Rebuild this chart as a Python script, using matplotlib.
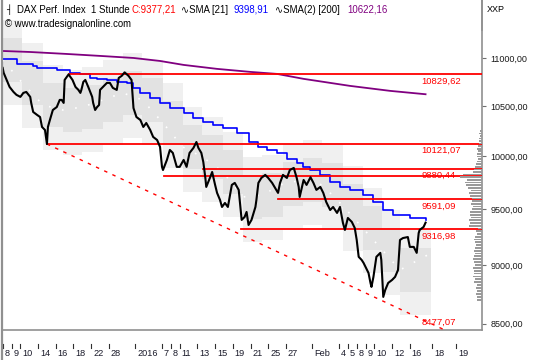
import numpy as np
import matplotlib
matplotlib.use("Agg")
import matplotlib.pyplot as plt
import matplotlib.transforms as mtransforms
from matplotlib.ticker import FixedLocator, NullLocator

plt.rcParams['font.family'] = ['Liberation Sans', 'DejaVu Sans']

# hourly bars (about 9 per trading day), Dec 8 2015 .. Feb 17 2016
price_bar = [0, 1, 4, 7, 11, 14, 18, 21, 24, 28, 29, 31, 35, 38, 40, 43, 45, 46, 48, 51,
             55, 58, 60, 62, 63, 67, 71, 74, 77, 79, 80, 82, 84, 87, 89, 91, 92, 94, 96, 98,
             99, 102, 106, 109, 112, 116, 118, 121, 124, 128, 131, 133, 136, 140, 143, 146, 150, 153, 157, 160,
             162, 163, 167, 170, 173, 177, 180, 184, 187, 190, 194, 197, 199, 202, 204, 206, 207, 211, 213, 216,
             218, 221, 223, 226, 229, 233, 236, 240, 241, 243, 246, 248, 250, 253, 257, 258, 260, 263, 267, 270,
             274, 277, 280, 282, 285, 289, 292, 296, 299, 301, 302, 306, 309, 313, 316, 319, 323, 326, 329, 333,
             336, 340, 343, 346, 348, 351, 355, 358, 360, 362, 365, 367, 372, 374, 375, 377, 380, 384, 385, 387,
             389, 392, 396, 399, 402, 404, 407, 412, 414, 418, 421, 423, 424, 428, 430]
price = [10897, 10845, 10771, 10698, 10646, 10616, 10595, 10636, 10646, 10595, 10533, 10441, 10411, 10390, 10290, 10260, 10121, 10290, 10360, 10461,
         10491, 10564, 10564, 10533, 10771, 10829, 10771, 10698, 10667, 10636, 10667, 10750, 10771, 10698, 10646, 10595, 10533, 10461, 10491, 10512,
         10667, 10698, 10740, 10740, 10688, 10667, 10792, 10813, 10850, 10813, 10771, 10481, 10390, 10360, 10290, 10330, 10260, 10191, 10161, 10093,
         9899, 9869, 9966, 10063, 10034, 9899, 9899, 9966, 9899, 10034, 10083, 10141, 10083, 10034, 9946, 9800, 9708, 9800, 9850, 9727,
         9652, 9586, 9521, 9558, 9521, 9727, 9746, 9680, 9586, 9402, 9429, 9475, 9356, 9402, 9521, 9586, 9746, 9793, 9822, 9793,
         9746, 9699, 9652, 9746, 9822, 9793, 9869, 9889, 9793, 9708, 9614, 9774, 9727, 9800, 9746, 9680, 9708, 9652, 9567, 9493,
         9521, 9466, 9521, 9374, 9311, 9420, 9384, 9329, 9221, 9071, 9044, 9017, 8930, 8844, 8810, 8896, 9071, 9106, 9044, 8725,
         8784, 8844, 8870, 8896, 8956, 9221, 9238, 9247, 9159, 9159, 9106, 9283, 9311, 9338, 9377.21]

sma21_bar = [0, 15, 25, 31, 35, 41, 55, 68, 79, 89, 96, 106, 116, 126, 133, 140, 150, 160, 170, 184,
             194, 204, 214, 224, 238, 250, 260, 269, 279, 289, 299, 305, 313, 323, 333, 343, 353, 366, 377, 387,
             397, 414, 430]
sma21 = [10993, 10944, 10934, 10913, 10892, 10892, 10871, 10840, 10829, 10788, 10777, 10771, 10750, 10740, 10688, 10636, 10585, 10533, 10481, 10431,
         10380, 10340, 10310, 10280, 10230, 10141, 10093, 10063, 10034, 9976, 9937, 9899, 9869, 9822, 9755, 9708, 9680, 9633, 9567, 9493,
         9447, 9420, 9398.91]

sma200_bar = [0, 28, 65, 99, 133, 160, 184, 218, 252, 279, 306, 353, 394, 430]
sma200 = [11078, 11067, 11046, 11025, 11003, 10971, 10929, 10887, 10855, 10834, 10782, 10709, 10657, 10622.16]

# shaded channel
band_bar = [0, 20, 41, 61, 81, 102, 122, 142, 163, 183, 203, 224, 244, 264, 285, 305, 325, 346, 366, 386, 404, 436]
band_mid = [10982, 10740, 10512, 10461, 10491, 10564, 10636, 10564, 10330, 10093, 9995, 9850, 9614, 9633, 9736, 9774, 9727, 9530, 9329, 9132, 8956, 9106]
band_hi_outer = [11417, 11165, 10928, 10875, 10906, 10982, 11057, 10982, 10739, 10493, 10391, 10240, 9995, 10014, 10121, 10161, 10112, 9907, 9698, 9494, 9311, 9467]
band_hi_inner = [11219, 10972, 10739, 10687, 10718, 10792, 10866, 10792, 10553, 10311, 10211, 10063, 9822, 9841, 9946, 9985, 9937, 9736, 9531, 9329, 9149, 9303]
band_lo_inner = [10750, 10513, 10290, 10240, 10270, 10341, 10412, 10341, 10112, 9880, 9784, 9642, 9411, 9430, 9531, 9568, 9522, 9329, 9132, 8939, 8767, 8914]
band_lo_outer = [10513, 10281, 10063, 10014, 10043, 10113, 10182, 10113, 9889, 9662, 9568, 9429, 9204, 9222, 9320, 9357, 9312, 9123, 8931, 8742, 8573, 8717]

# support / resistance lines: value, start bar, label shown
level_price = [10829.62, 10121.07, 9880.44, 9812, 9591.09, 9316.98]
level_start = [67, 45, 204, 164, 280, 242]
level_label = ['10829,62', '10121,07', '9880,44', '', '9591,09', '9316,98']

# trend line anchors
trend_bar = [45, 430]
trend_price = [10121.07, 8523]
trend_label = '8477,07'
trend_label_price = 8477.07

# volume profile on the price axis
profile_levels = np.arange(8700, 10275, 25)
profile_len = [5, 5, 6, 5, 6, 5,
               8, 7, 9, 8, 8, 9, 7, 8, 9, 8, 7, 8,
               7, 6, 7, 8, 7,
               5, 6, 4,
               13, 12, 13, 11, 12, 12,
               10, 9, 11, 10, 10,
               12, 13, 11,
               14, 16, 17, 15,
               22, 19,
               9, 8, 7, 6,
               5, 4, 5, 5, 4, 5, 4, 3,
               3, 3, 2, 3, 2]

y_ticks = [8500, 9000, 9500, 10000, 10500, 11000]
x_tick_bar = [0, 9, 18, 36, 54, 72, 90, 108, 135, 162, 171, 180, 198, 216, 234, 252, 270, 288,
              315, 342, 351, 360, 369, 378, 396, 414, 437, 461]
x_tick_label = ['8', '9', '10', '14', '16', '18', '22', '28', '2016', '7', '8', '11', '13', '15', '19', '21',
                '25', '27', 'Feb', '4', '5', '8', '9', '10', '12', '16', '18', '19']

fig = plt.figure(figsize=(5.4, 3.6), dpi=100)
ax = fig.add_axes([2 / 540, 30 / 360, 480 / 540, 330 / 360])
ax.set_yscale('log')
ax.set_ylim(8449, 11640)
ax.set_xlim(-0.7, 487.4)

ax.fill_between(band_bar, band_lo_outer, band_hi_outer, step='post', color='#f0f0f0', lw=0, zorder=1)
ax.fill_between(band_bar, band_lo_inner, band_hi_inner, step='post', color='#e2e2e2', lw=0, zorder=1)
ax.plot(band_bar, band_mid, color='white', ls=(0, (1, 7)), lw=1.2, zorder=2)

ax.plot(sma200_bar, sma200, color='#800080', lw=1.3, zorder=3)
ax.plot(sma21_bar, sma21, color='#0000ff', lw=1.2, drawstyle='steps-post', zorder=3)

for p, s, lab in zip(level_price, level_start, level_label):
    ax.plot([s, 487.4], [p, p], color='#ff0000', lw=1.3, zorder=4)
    if lab:
        ax.annotate(lab, (426, p), xytext=(0, -1.5), textcoords='offset points',
                    ha='left', va='top', color='#ff0000', fontsize=6.8, zorder=6)

# extend trend line in log space
lt = np.log(trend_price)
slope = (lt[1] - lt[0]) / (trend_bar[1] - trend_bar[0])
tx = np.array([trend_bar[0], 487.4])
ty = np.exp(lt[0] + slope * (tx - trend_bar[0]))
ax.plot(tx, ty, color='#ff0000', lw=1.0, ls=(0, (2.5, 4)), zorder=4)
ax.text(426, trend_label_price, trend_label, ha='left', va='bottom', color='#ff0000', fontsize=6.8, zorder=6)

ax.plot(price_bar, price, color='black', lw=1.5, zorder=5)

ax.barh(profile_levels, -np.array(profile_len), left=487.4, height=16,
        color='#9a9a9a', lw=0, zorder=4)

# axes styling
ax.yaxis.tick_right()
ax.yaxis.set_major_locator(FixedLocator(y_ticks))
ax.yaxis.set_minor_locator(NullLocator())
ax.set_yticklabels([f'{v},00' for v in y_ticks])
ax.tick_params(axis='y', length=3, color='#707070', labelsize=6.5, pad=3, labelcolor='#1a1a1a')
ax.set_xticks([])
for side in ['left', 'top']:
    ax.spines[side].set_visible(False)
for side in ['bottom', 'right']:
    ax.spines[side].set_color('#909090')
    ax.spines[side].set_linewidth(1.2)

trans = mtransforms.blended_transform_factory(ax.transData, ax.transAxes)
lab_trans = mtransforms.offset_copy(trans, fig=fig, x=2, y=0, units='dots')
for b, lab in zip(x_tick_bar, x_tick_label):
    ax.plot([b, b], [-14 / 330, -18 / 330], transform=trans, clip_on=False, color='#303030', lw=0.8)
    ax.text(b, -19 / 330, lab, transform=lab_trans, ha='left', va='top', fontsize=6.6, color='#1a1a2a')

# frame pieces outside the axes
fig.add_artist(plt.Line2D([1.5 / 540, 1.5 / 540], [0, 1], color='#909090', lw=1.6))
fig.add_artist(plt.Line2D([482 / 540, 482 / 540], [1, 330 / 360], color='#909090', lw=1.2))


def px(x, y):
    return x / 540, 1 - y / 360


fig.text(*px(6, 10), '\u2524', fontsize=6.5, va='center', ha='left', family=['DejaVu Sans'])
fig.text(*px(17, 10), 'DAX Perf. Index  1 Stunde', fontsize=6.9, va='center', ha='left')
fig.text(*px(132, 10), 'C:9377,21', fontsize=6.9, va='center', ha='left', color='#ff0000')
fig.text(*px(181, 10), '\u223fSMA [21]', fontsize=6.9, va='center', ha='left')
fig.text(*px(233, 10), '9398,91', fontsize=6.9, va='center', ha='left', color='#0000ff')
fig.text(*px(275, 10), '\u223fSMA(2) [200]', fontsize=6.9, va='center', ha='left')
fig.text(*px(347, 10), '10622,16', fontsize=6.9, va='center', ha='left', color='#800080')
fig.text(*px(5, 24), '\u00a9 www.tradesignalonline.com', fontsize=6.9, va='center', ha='left')
fig.text(*px(487, 9), 'XXP', fontsize=6.5, va='center', ha='left')

fig.savefig('out.png', dpi=100)
